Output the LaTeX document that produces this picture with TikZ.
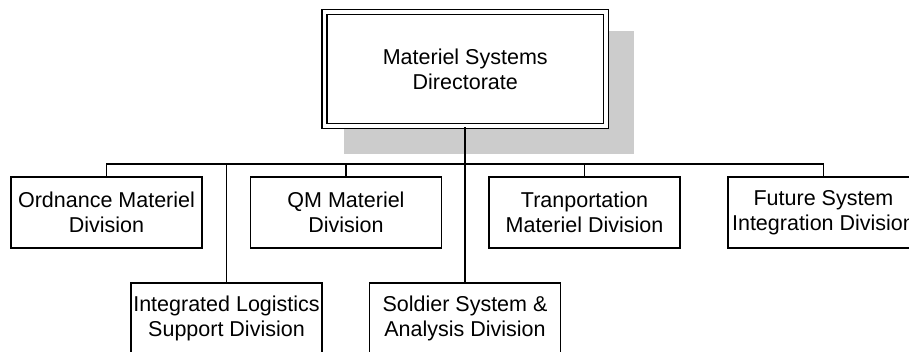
\documentclass[tikz,border=0pt]{standalone}
\usepackage{fontspec}
\setmainfont{Liberation Sans}
\usetikzlibrary{backgrounds}
\definecolor{shadowc}{HTML}{CCCCCC}
\tikzset{
  unit/.style={draw=black, line width=1.8bp, fill=white, minimum width=191bp, minimum height=71bp, inner sep=0pt, align=center, font=\fontsize{21.5bp}{25bp}\selectfont},
  headbox/.style={draw=black, fill=white, line width=1.6bp, double=white, double distance=3.5bp, minimum width=281.5bp, minimum height=114bp, inner sep=0pt, align=center, font=\fontsize{21.5bp}{25bp}\selectfont},
  link/.style={line width=1.8bp, draw=black}
}
\begin{document}
\begin{tikzpicture}[x=1bp,y=1bp]
\useasboundingbox (0,0) rectangle (909,-351);
\node[headbox] (top) at (465.25,-69) {Materiel Systems\\Directorate};
\begin{scope}[on background layer]
  \fill[shadowc] ([shift={(20,-20)}]top.north west) rectangle ([shift={(27,-27)}]top.south east);
\end{scope}
\node[unit] (ord) at (106.5,-212.5) {Ordnance Materiel\\Division};
\node[unit] (qm) at (346,-212.5) {QM Materiel\\Division};
\node[unit] (trans) at (584.5,-212.5) {Tranportation\\Materiel Division};
\node[unit] (fut) at (823.5,-212.5) {Future System\\Integration Division};
\node[unit] (ils) at (226.5,-318.5) {Integrated Logistics\\Support Division};
\node[unit] (sold) at (465,-318.5) {Soldier System \&\\Analysis Division};
\coordinate (bus) at (465,-164);
\draw[link] (ord.north) -- (ord.north |- bus) -- (fut.north |- bus) -- (fut.north);
\draw[link] (qm.north) -- (qm.north |- bus);
\draw[link] (trans.north) -- (trans.north |- bus);
\draw[link] (ils.north) -- (ils.north |- bus);
\draw[link] (top.south -| sold.north) -- (sold.north);
\end{tikzpicture}
\end{document}
